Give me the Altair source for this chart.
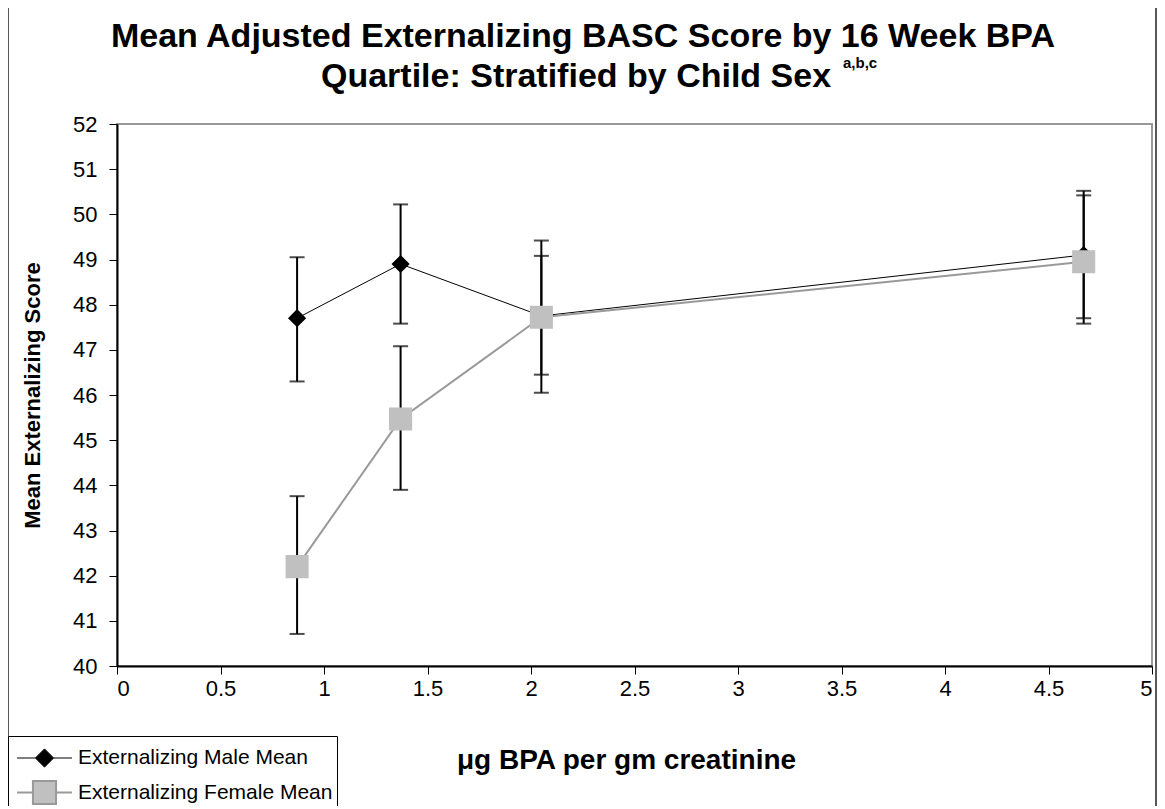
import altair as alt
import pandas as pd

# ---- data ----
bpa_x = [0.87, 1.37, 2.05, 4.67]
male_mean = [47.7, 48.9, 47.75, 49.1]
male_lo = [46.3, 47.58, 46.45, 47.7]
male_hi = [49.05, 50.22, 49.08, 50.52]
female_mean = [42.2, 45.47, 47.72, 48.95]
female_lo = [40.71, 43.9, 46.05, 47.58]
female_hi = [43.76, 47.08, 49.42, 50.42]
series_names = ["Externalizing Male Mean", "Externalizing Female Mean"]
x_ticks = [0, 0.5, 1, 1.5, 2, 2.5, 3, 3.5, 4, 4.5, 5]
y_ticks = list(range(40, 53))
title_lines = ["Mean Adjusted Externalizing BASC Score by 16 Week BPA",
               "Quartile: Stratified by Child Sex"]
title_sup = "a,b,c"

rows = []
for s, means, los, his in [
    (series_names[0], male_mean, male_lo, male_hi),
    (series_names[1], female_mean, female_lo, female_hi),
]:
    for xv, m, lo, hi in zip(bpa_x, means, los, his):
        rows.append({"series": s, "x": xv, "mean": m, "lo": lo, "hi": hi})
df = pd.DataFrame(rows)

FONT = "Liberation Sans"
YTITLE = "Mean Externalizing Score"
XTITLE = "μg BPA per gm creatinine"
MALE_LINE, FEMALE_LINE = "black", "#999999"
MALE_FILL, FEMALE_FILL = "black", "#c0c0c0"
diamond = "M-1.57,0L-0.52,0M0.52,0L1.57,0M0,-0.52L0.52,0L0,0.52L-0.52,0Z"
square = "M-1.57,0L-0.66,0M0.66,0L1.57,0M-0.66,-0.66L0.66,-0.66L0.66,0.66L-0.66,0.66Z"

leg = alt.Legend(
    title=None, orient="none", legendX=-109, legendY=612,
    strokeColor="black", fillColor="white", padding=4, cornerRadius=0,
    symbolSize=1225, symbolOffset=14, labelOffset=15, rowPadding=4,
    labelFont=FONT, labelFontSize=21, labelColor="black", labelLimit=400,
    symbolOpacity=1,
)

x_axis = alt.Axis(values=x_ticks, format="~g", title=XTITLE, labelPadding=4,
                  titleY=94, titleX=509, titleBaseline="middle", titleFontSize=28)
y_axis = alt.Axis(values=y_ticks, title=YTITLE, labelPadding=12,
                  titleX=-85, titleY=271, titleBaseline="middle", titleAngle=-90)
x_scale = alt.Scale(domain=[0, 5], nice=False)
y_scale = alt.Scale(domain=[40, 52], nice=False, zero=False)

xs = alt.X("x:Q", scale=x_scale, axis=x_axis, title=XTITLE)
ys = alt.Y("mean:Q", scale=y_scale, axis=y_axis, title=YTITLE)

base = alt.Chart(df)
male = base.transform_filter(alt.datum.series == series_names[0])
female = base.transform_filter(alt.datum.series == series_names[1])

# outer chart frame (decoration)
frame = alt.Chart(pd.DataFrame({"f": [0]})).mark_rect(
    fill="white", fillOpacity=0, stroke="#222222", strokeWidth=1.5
).encode(x=alt.value(-109), x2=alt.value(1039), y=alt.value(-117), y2=alt.value(690))

errs = base.mark_errorbar(ticks=True, size=15, thickness=2, color="black").encode(
    x=xs, y=alt.Y("lo:Q", scale=y_scale, axis=y_axis, title=YTITLE), y2="hi:Q",
    detail="series:N",
)

line_m = male.mark_line(color=MALE_LINE, strokeWidth=1).encode(x=xs, y=ys)
line_f = female.mark_line(color=FEMALE_LINE, strokeWidth=2).encode(x=xs, y=ys)

pts_m = male.mark_point(filled=True, shape=diamond, size=1225, strokeWidth=0,
                        fill=MALE_FILL, opacity=1).encode(x=xs, y=ys)
pts_f = female.mark_point(filled=True, shape=square, size=1225, strokeWidth=0,
                          fill=FEMALE_FILL, opacity=1).encode(x=xs, y=ys)

# zero-size layer that only carries the legend (line + marker symbols)
legend_layer = base.mark_point(filled=True, size=0, opacity=1).encode(
    x=xs, y=ys,
    fill=alt.Fill("series:N", scale=alt.Scale(domain=series_names, range=[MALE_FILL, FEMALE_FILL]), legend=leg),
    shape=alt.Shape("series:N", scale=alt.Scale(domain=series_names, range=[diamond, square]), legend=leg),
    stroke=alt.Stroke("series:N", scale=alt.Scale(domain=series_names, range=[MALE_LINE, FEMALE_LINE]), legend=leg),
    strokeWidth=alt.StrokeWidth("series:N", scale=alt.Scale(domain=series_names, range=[1, 2]), legend=leg),
)

t1 = alt.Chart(pd.DataFrame({"t": [title_lines[0]]})).mark_text(
    font=FONT, fontSize=34, fontWeight="bold", align="center", baseline="alphabetic", color="black"
).encode(x=alt.value(466), y=alt.value(-77), text="t:N")
t2 = alt.Chart(pd.DataFrame({"t": [title_lines[1]]})).mark_text(
    font=FONT, fontSize=34, fontWeight="bold", align="center", baseline="alphabetic", color="black"
).encode(x=alt.value(459), y=alt.value(-37), text="t:N")
sup = alt.Chart(pd.DataFrame({"t": [title_sup]})).mark_text(
    font=FONT, fontSize=15, fontWeight="bold", align="left", baseline="alphabetic", color="black"
).encode(x=alt.value(726), y=alt.value(-56), text="t:N")

chart = alt.layer(frame, errs, line_m, line_f, pts_m, pts_f, legend_layer, t1, t2, sup).properties(
    width=1035, height=542,
    autosize=alt.AutoSizeParams(type="none"),
    padding={"left": 109, "top": 116, "right": 5, "bottom": 140},
).configure_view(
    stroke="#999999", strokeWidth=2
).configure_axis(
    labelFont=FONT, labelFontSize=22, labelColor="black", grid=False,
    domainColor="black", domainWidth=2, tickColor="black", tickSize=8, tickWidth=1,
    titleFont=FONT, titleFontSize=22, titleFontWeight="bold", titleColor="black",
)

chart.save("out.html", embed_options={"renderer": "svg", "actions": False})
